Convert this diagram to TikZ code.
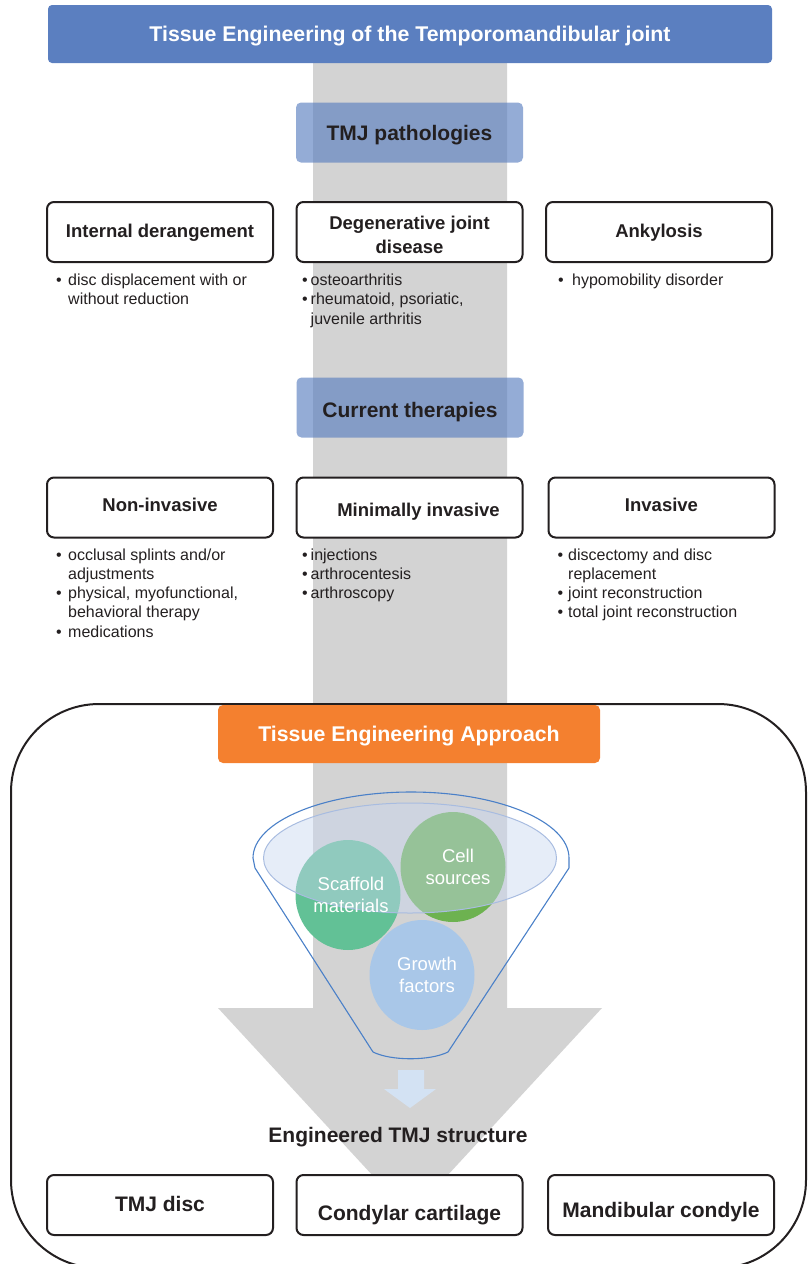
\documentclass[tikz,border=0pt]{standalone}
\usepackage{fontspec}
\setmainfont{Liberation Sans}
\usetikzlibrary{shapes.geometric}

\definecolor{titleblue}{HTML}{5B7FC0}
\definecolor{shaftgray}{HTML}{D3D3D3}
\definecolor{inkdark}{HTML}{231F20}
\definecolor{approachorange}{HTML}{F4802F}
\definecolor{scaffoldgreen}{HTML}{62C196}
\definecolor{cellgreen}{HTML}{6DB250}
\definecolor{growthblue}{HTML}{A9C7E8}
\definecolor{funnelblue}{HTML}{4A80C8}
\definecolor{rimblue}{HTML}{A8BCE0}
\definecolor{rimfill}{HTML}{C8D7F0}
\definecolor{smallarrowblue}{HTML}{D3E2F3}

% one bulleted entry with a hanging indent of #1 pt
\newcommand{\bul}[2]{\par\noindent\hangindent=#1pt\hangafter=1\makebox[#1pt][l]{\textbullet}#2}
% a block of bulleted entries, #1 pt wide
\newcommand{\blist}[2]{\vtop{\hsize=#1pt\parindent=0pt\fontsize{16}{19.3}\selectfont #2}}

\tikzset{
  headbar/.style={rounded corners=4pt, inner sep=0pt, text=white,
    font=\bfseries\fontsize{21.3}{25}\selectfont},
  sectionbar/.style={fill=titleblue, fill opacity=0.65, text opacity=1,
    rounded corners=5pt, inner sep=0pt, minimum width=227pt, minimum height=60pt,
    text=inkdark, font=\bfseries\fontsize{21}{25}\selectfont},
  catbox/.style={draw=inkdark, line width=2pt, rounded corners=7pt, fill=white,
    inner sep=0pt, minimum width=226pt, minimum height=60pt, text=inkdark,
    font=\bfseries\fontsize{18.5}{24}\selectfont},
  partbox/.style={catbox, font=\bfseries\fontsize{21}{25}\selectfont},
  bl/.style n args={2}{text height=#1pt, text depth=#2pt},
  bulletlist/.style={anchor=base west, inner sep=0pt, text=inkdark},
  ingredient/.style={ellipse, inner sep=0pt, minimum width=105pt, minimum height=110pt},
  ingredienttext/.style={align=center, text=white, inner sep=0pt,
    font=\fontsize{18.5}{22}\selectfont},
}

\begin{document}
\begin{tikzpicture}[x=1pt, y=-1pt]
\useasboundingbox (0,0) rectangle (808,1264);

% broad grey arrow running down the whole page
\fill[shaftgray] (313,63) -- (507,63) -- (507,1008) -- (602,1008) -- (410,1216)
  -- (218,1008) -- (313,1008) -- cycle;

% title
\node[headbar, fill=titleblue, minimum width=724pt, minimum height=58pt, bl={22.5}{7.5}]
  (title) at (410,34) {Tissue Engineering of the Temporomandibular joint};

% pathologies
\node[sectionbar, bl={22.5}{7.5}] (patho) at (409.5,132.5) {TMJ pathologies};
\node[catbox, bl={20}{10}] (intder) at (160,232) {Internal derangement};
\node[catbox, align=center] (degen) at (409.5,232) {\rule{0pt}{19.5pt}Degenerative joint\\disease};
\node[catbox, bl={20}{10}] (ankyl) at (659,232) {Ankylosis};

\node[bulletlist] (intderlist) at (56,285.5) {\blist{230}{%
  \bul{12}{disc displacement with or\\without reduction}}};
\node[bulletlist] (degenlist) at (302,285.5) {\blist{230}{%
  \bul{8.5}{osteoarthritis}
  \bul{8.5}{rheumatoid, psoriatic,\\juvenile arthritis}}};
\node[bulletlist] (ankyllist) at (558,285.5) {\blist{230}{%
  \bul{14}{hypomobility disorder}}};

% therapies
\node[sectionbar, bl={24.5}{5.5}] (therapies) at (410,407.5) {Current therapies\hspace{10pt}};
\node[catbox, bl={19}{11}] (noninv) at (160,507.5) {Non-invasive};
\node[catbox, bl={24}{6}] (mininv) at (409.5,507.5) {\hspace{18pt}Minimally invasive};
\node[catbox, bl={19}{11}] (inv) at (661.5,507.5) {Invasive};

\node[bulletlist] (noninvlist) at (56,560) {\blist{230}{%
  \bul{12}{occlusal splints and/or\\adjustments}
  \bul{12}{physical, myofunctional,\\behavioral therapy}
  \bul{12}{medications}}};
\node[bulletlist] (mininvlist) at (302,560) {\blist{230}{%
  \bul{8.5}{injections}
  \bul{8.5}{arthrocentesis}
  \bul{8.5}{arthroscopy}}};
\node[bulletlist] (invlist) at (557.5,560) {\blist{240}{%
  \bul{10.5}{discectomy and disc\\replacement}
  \bul{10.5}{joint reconstruction}
  \bul{10.5}{total joint reconstruction}}};

% tissue engineering frame
\draw[inkdark, line width=2pt, rounded corners=88pt] (11,704) rectangle (806,1268);
\node[headbar, fill=approachorange, rounded corners=5pt, minimum width=382pt,
  minimum height=58pt, bl={22.5}{7.5}] (approach) at (409,734) {Tissue Engineering Approach};

% funnel ingredients
\node[ingredient, fill=scaffoldgreen] (scaf) at (348,895) {};
\node[ingredient, fill=cellgreen] (cell) at (453,867) {};
\node[ingredient, fill=growthblue] (growth) at (422,975) {};

% translucent rim of the funnel
\draw[rimblue, line width=1pt, fill=rimfill, fill opacity=0.45] (410,858)
  ellipse [x radius=146.5, y radius=55];

% funnel outline
\draw[funnelblue, line width=1.1pt, line join=round]
  (253,858) arc [start angle=180, end angle=360, x radius=158, y radius=66]
  -- (569,868) -- (448,1052) .. controls (430,1061) and (391,1061) .. (373,1052)
  -- (255,868) -- cycle;

\node[ingredienttext, xshift=3pt] (scaftext) at (scaf) {Scaffold\\materials};
\node[ingredienttext, xshift=5pt] (celltext) at (cell) {Cell\\sources};
\node[ingredienttext, xshift=5pt] (growthtext) at (growth) {Growth\\factors};

% small arrow out of the funnel
\fill[smallarrowblue] (398,1070) -- (424,1070) -- (424,1089) -- (436,1089)
  -- (410,1108) -- (384,1089) -- (398,1089) -- cycle;

\node[anchor=base, inner sep=0pt, text=inkdark, font=\bfseries\fontsize{21}{25}\selectfont]
  (engineered) at (398,1142) {Engineered TMJ structure};

% engineered parts
\node[partbox, bl={21.5}{8.5}] (disc) at (160,1205) {TMJ disc};
\node[partbox, bl={30}{0}] (cart) at (409.5,1205) {Condylar cartilage};
\node[partbox, bl={27}{3}] (condyle) at (661,1205) {Mandibular condyle};
\end{tikzpicture}
\end{document}
